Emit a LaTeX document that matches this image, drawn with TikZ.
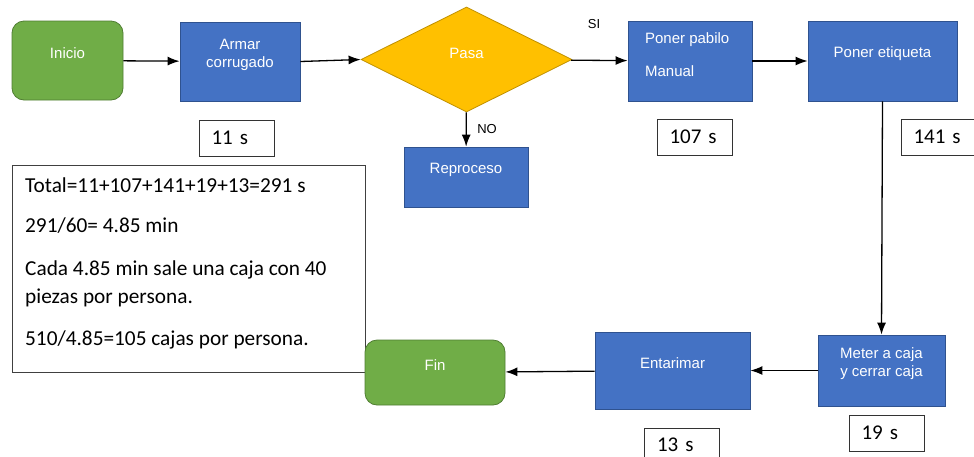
\documentclass[tikz,border=0pt]{standalone}
\usepackage{fontspec}
\setmainfont{Liberation Sans}
\newfontfamily\calibri{Carlito}
\usetikzlibrary{shapes.geometric,arrows.meta}
\definecolor{azul}{HTML}{4472C4}
\definecolor{azulborde}{HTML}{2F528F}
\definecolor{verde}{HTML}{70AD47}
\definecolor{verdeborde}{HTML}{507E32}
\definecolor{oro}{HTML}{FFC000}
\definecolor{oroborde}{HTML}{BF9000}
\tikzset{>={Latex[length=12pt,width=9pt]}}
\tikzset{
  txt/.style={text=white, font=\fontsize{15}{18}\selectfont, align=center},
  proc/.style={rectangle, draw=azulborde, fill=azul, line width=0.8pt, inner sep=0pt,
    label={[txt,yshift=7pt]center:#1}},
  term/.style={rectangle, rounded corners=12pt, draw=verdeborde, fill=verde, line width=0.8pt,
    inner sep=0pt, label={[txt,yshift=7.5pt]center:#1}},
  tiempo/.style={draw=black!80, line width=0.7pt, font=\calibri\fontsize{21}{24}\selectfont,
    text width=50pt, align=left, inner xsep=12.5pt, minimum height=36pt},
  flecha/.style={->, line width=1.3pt}
}

\begin{document}
\begin{tikzpicture}[x=1pt,y=-1pt]
  \useasboundingbox (0,0) rectangle (974,456);
  % notas
  \node[draw=black!75, line width=0.7pt, minimum width=353pt, minimum height=207pt] (notas) at (188.5,268.5) {};
  \node[anchor=north west, inner sep=0pt, align=left, font=\calibri\fontsize{21.3}{28}\selectfont] (calculo) at (25,178)
    {Total=11+107+141+19+13=291 s\\[12pt]291/60= 4.85 min\\[15pt]Cada 4.85 min sale una caja con 40\\piezas por persona.\\[14pt]510/4.85=105 cajas por persona.};
  % fila de arriba
  \node[term=Inicio, minimum width=111pt, minimum height=79pt] (inicio) at (67.5,60.5) {};
  \node[proc={Armar\\corrugado}, minimum width=120pt, minimum height=79pt] (armar) at (240,61.5) {};
  \node[diamond, aspect=2, draw=oroborde, fill=oro, line width=0.8pt, inner sep=0pt,
    minimum width=211pt, minimum height=105pt, label={[txt,yshift=6.5pt]center:Pasa}] (pasa) at (466.5,59.5) {};
  \node[proc={}, minimum width=124pt, minimum height=80pt] (pabilo) at (690,61) {};
  \node[txt, align=left, anchor=west] (pabilotxt) at ([xshift=14pt,yshift=6.5pt]pabilo.west) {Poner pabilo\\[15pt]Manual};
  \node[proc={Poner etiqueta}, minimum width=149pt, minimum height=80pt] (etiqueta) at (882.5,61) {};
  \node[proc=Reproceso, minimum width=124pt, minimum height=60pt] (reproceso) at (466,177) {};
  % fila de abajo
  \node[proc={Meter a caja\\y cerrar caja}, minimum width=127pt, minimum height=71pt] (meter) at (881.5,370.5) {};
  \node[proc=Entarimar, minimum width=155pt, minimum height=77pt] (entarimar) at (672.5,370.5) {};
  \node[term=Fin, minimum width=140pt, minimum height=65pt] (fin) at (435,372.5) {};
  % tiempos
  \node[tiempo] (t1) at (236.5,138) {11 s};
  \node[tiempo] (t2) at (694.5,137) {107 s};
  \node[tiempo] (t3) at (938.5,137) {141 s};
  \node[tiempo] (t4) at (886.5,433) {19 s};
  \node[tiempo, minimum height=34pt] (t5) at (682,445) {13 s};
  % flechas
  \draw[flecha] (inicio) -- (armar);
  \draw[flecha] (armar.east) -- (pasa.west);
  \draw[flecha] (pasa) -- (pabilo);
  \draw[flecha] (pasa) -- (reproceso);
  \draw[flecha] (pabilo) -- (etiqueta);
  \draw[flecha] (etiqueta.south) -- (meter.north);
  \draw[flecha] (meter) -- (entarimar);
  \draw[flecha] (entarimar) -- (fin);
  \node[font=\fontsize{13}{15}\selectfont] (si) at (594,24) {SI};
  \node[font=\fontsize{13}{15}\selectfont] (no) at (487,129) {NO};
\end{tikzpicture}
\end{document}
